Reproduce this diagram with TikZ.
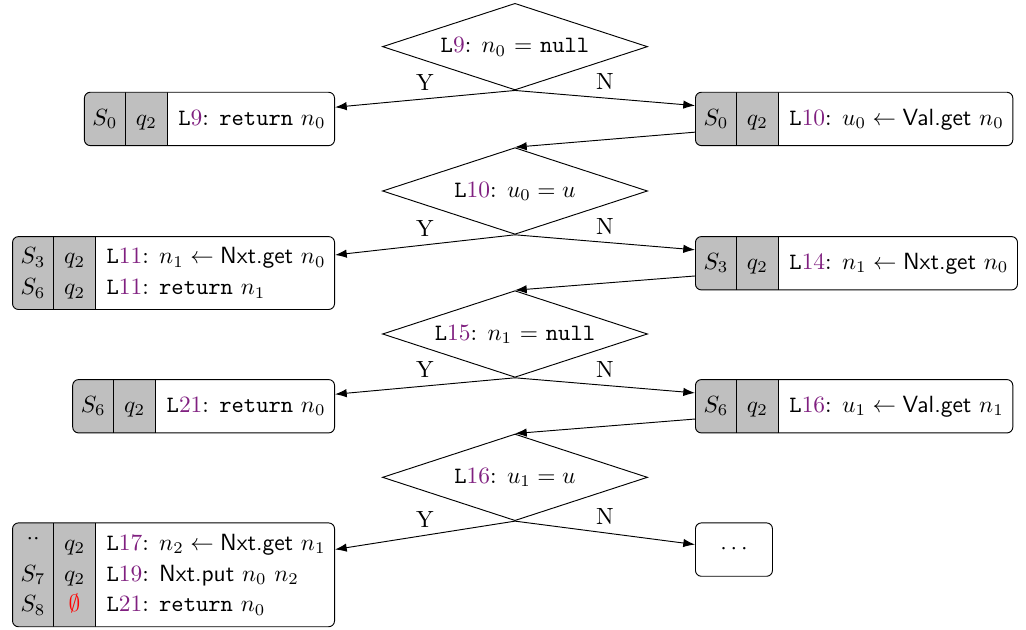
\documentclass[tikz,border=0pt]{standalone}
\usepackage{array}
\usetikzlibrary{positioning, shapes.geometric, arrows.meta}

\definecolor{linepurple}{RGB}{128,32,128}
\newcommand{\lno}[1]{\texttt{L}\textcolor{linepurple}{#1}}
\newcolumntype{Q}{@{}w{c}{0.615cm}@{}w{c}{0.63cm}@{\hspace{0.165cm}}l@{\hspace{0.135cm}}}
\renewcommand{\arraystretch}{1.1}

\tikzset{
	test/.style={diamond, draw, aspect=3, minimum width=3.975cm, minimum height=1.3cm, inner sep=0pt},
	stbox/.style={draw, rounded corners=2.5pt, inner xsep=0pt, inner ysep=2.35pt, minimum height=0.8cm,
		path picture={
			\fill[lightgray, sharp corners] (path picture bounding box.south west) rectangle ([xshift=1.245cm]path picture bounding box.north west);
			\draw ([xshift=0.615cm]path picture bounding box.south west) -- ([xshift=0.615cm]path picture bounding box.north west);
			\draw ([xshift=1.245cm]path picture bounding box.south west) -- ([xshift=1.245cm]path picture bounding box.north west);
		}},
	endbox/.style={draw, rounded corners=2.5pt, minimum width=1.155cm, minimum height=0.8cm}
}

\begin{document}
\begin{tikzpicture}[>={Latex[length=5pt, width=3.6pt]}]
			\useasboundingbox (0,0) rectangle (15.39,-9.45);
			% tests
			\node (d1) [test] at (7.725,-0.70) {\lno{9}: $n_0$ = \texttt{null}};
			\node (d2) [test] at (7.725,-2.865) {\lno{10}: $u_0 = u$};
			\node (d3) [test] at (7.725,-5.01) {\lno{15}: $n_1$ = \texttt{null}};
			\node (d4) [test] at (7.725,-7.16) {\lno{16}: $u_1 = u$};
			
			% states
			\node (y1) [stbox, below left=0.02cm and 2.7cm of d1.south] {\begin{tabular}{Q} $S_0$ & $q_2$ & \lno{9}: \texttt{return} $n_0$ \end{tabular}};
			\node (n1) [stbox, below right=0.02cm and 2.7cm of d1.south] {\begin{tabular}{Q} $S_0$ & $q_2$ & \lno{10}: $u_0 \leftarrow \textsf{Val.get}\ n_0$ \end{tabular}};
			\node (y2) [stbox, below left=0.02cm and 2.7cm of d2.south] {\begin{tabular}{Q} $S_3$ & $q_2$ & \lno{11}: $n_1 \leftarrow \textsf{Nxt.get}\ n_0$ \\ $S_6$ & $q_2$ & \lno{11}: \texttt{return} $n_1$ \end{tabular}};
			\node (n2) [stbox, below right=0.02cm and 2.7cm of d2.south] {\begin{tabular}{Q} $S_3$ & $q_2$ & \lno{14}: $n_1 \leftarrow \textsf{Nxt.get}\ n_0$ \end{tabular}};
			\node (y3) [stbox, below left=0.02cm and 2.7cm of d3.south] {\begin{tabular}{Q} $S_6$ & $q_2$ & \lno{21}: \texttt{return} $n_0$ \end{tabular}};
			\node (n3) [stbox, below right=0.02cm and 2.7cm of d3.south] {\begin{tabular}{Q} $S_6$ & $q_2$ & \lno{16}: $u_1 \leftarrow \textsf{Val.get}\ n_1$ \end{tabular}};
			\node (y4) [stbox, below left=0.02cm and 2.7cm of d4.south] {\begin{tabular}{Q} \raisebox{0.6ex}{$\cdot\cdot$} & $q_2$ & \lno{17}: $n_2 \leftarrow \textsf{Nxt.get}\ n_1$ \\ $S_7$ & $q_2$ & \lno{19}: $\textsf{Nxt.put}\ n_0\ n_2$ \\ $S_8$ & \textcolor{red}{$\emptyset$} & \lno{21}: \texttt{return} $n_0$ \end{tabular}};
			\node (n4) [endbox, below right=0.02cm and 2.7cm of d4.south] {$\cdots$};
			
			% branches
			\draw [->] (d1.south) -- (y1) node[midway,above] {Y};
			\draw [->] (d1.south) -- (n1) node[midway,above] {N};
			\draw [->] (n1) -- (d2.north);
			\draw [->] (d2.south) -- (y2) node[midway,above] {Y};
			\draw [->] (d2.south) -- (n2) node[midway,above] {N};
			\draw [->] (n2) -- (d3.north);
			\draw [->] (d3.south) -- (y3) node[midway,above] {Y};
			\draw [->] (d3.south) -- (n3) node[midway,above] {N};
			\draw [->] (n3) -- (d4.north);
			\draw [->] (d4.south) -- (y4) node[midway,above] {Y};
			\draw [->] (d4.south) -- (n4) node[midway,above] {N};
		\end{tikzpicture}
\end{document}
